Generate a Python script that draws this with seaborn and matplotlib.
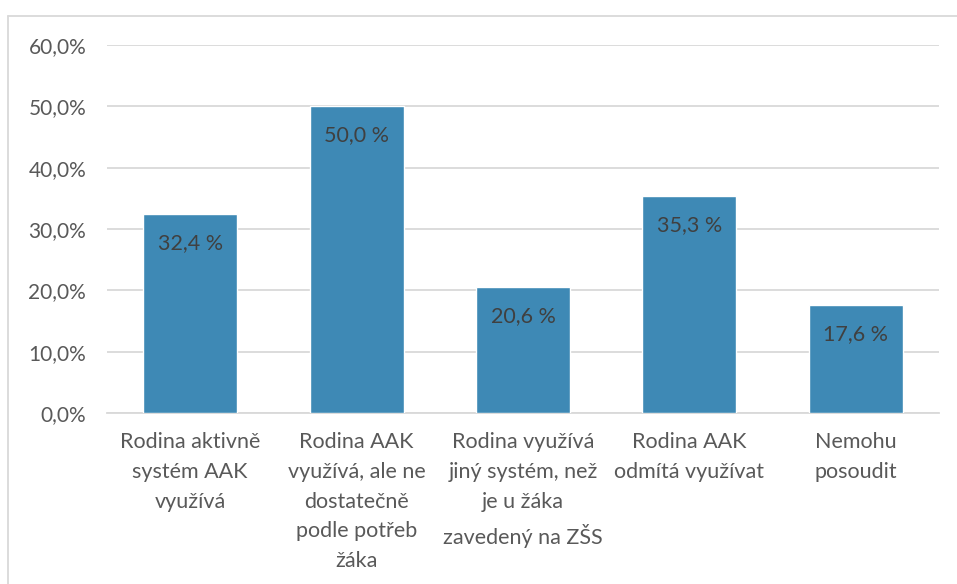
import matplotlib
matplotlib.use("Agg")
import matplotlib.pyplot as plt
import matplotlib.lines as mlines
import pandas as pd
import seaborn as sns

CATEGORIES = [
    "Rodina aktivně\nsystém AAK\nvyužívá",
    "Rodina AAK\nvyužívá, ale ne\ndostatečně\npodle potřeb\nžáka",
    "Rodina využívá\njiný systém, než\nje u žáka\nzavedený na ZŠS",
    "Rodina AAK\nodmítá využívat",
    "Nemohu\nposoudit",
]
VALUES = [32.4, 50.0, 20.6, 35.3, 17.6]
Y_TICKS = [0, 10, 20, 30, 40, 50, 60]

BAR_COLOR = "#3E89B5"
GRID_COLOR = "#D9D9D9"
TICK_COLOR = "#595959"
LABEL_COLOR = "#404040"

sns.set_theme(style="white")
plt.rcParams["font.family"] = ["Lato", "DejaVu Sans"]

df = pd.DataFrame({"cat": CATEGORIES, "val": VALUES})

fig = plt.figure(figsize=(9.57, 5.84), dpi=100)
ax = fig.add_axes([107 / 957, 1 - 413 / 584, (939 - 107) / 957, (413 - 45) / 584])

sns.barplot(data=df, x="cat", y="val", color=BAR_COLOR, saturation=1,
            width=0.565, ax=ax, zorder=3)

ax.set_ylim(0, 60)
ax.set_yticks(Y_TICKS)
ax.set_yticklabels([f"{t},0%" for t in Y_TICKS])
ax.yaxis.grid(True, color=GRID_COLOR, linewidth=1.3, zorder=0)
ax.set_axisbelow(True)
for side in ["top", "right", "left"]:
    ax.spines[side].set_visible(False)
ax.spines["bottom"].set_color(GRID_COLOR)
ax.spines["bottom"].set_linewidth(1.3)
ax.tick_params(axis="both", length=0, colors=TICK_COLOR)
ax.tick_params(axis="y", pad=15, labelsize=15)
ax.tick_params(axis="x", pad=14, labelsize=15.5)
for lbl in ax.get_xticklabels():
    lbl.set_linespacing(1.6)
ax.set_xlabel("")
ax.set_ylabel("")

for patch, v in zip(ax.patches, VALUES):
    cx = patch.get_x() + patch.get_width() / 2
    ax.annotate(f"{v:.1f} %".replace(".", ","), (cx, v), xytext=(0, -29),
                textcoords="offset pixels",
                ha="center", va="center", fontsize=15.5, color=LABEL_COLOR, zorder=4)

# chart frame (top and left edges visible)
fig.add_artist(mlines.Line2D([8 / 957, 1], [1 - 16 / 584, 1 - 16 / 584],
                             color=GRID_COLOR, linewidth=1.3, transform=fig.transFigure))
fig.add_artist(mlines.Line2D([8 / 957, 8 / 957], [0, 1 - 16 / 584],
                             color=GRID_COLOR, linewidth=1.3, transform=fig.transFigure))

fig.savefig("out.png", dpi=100)
